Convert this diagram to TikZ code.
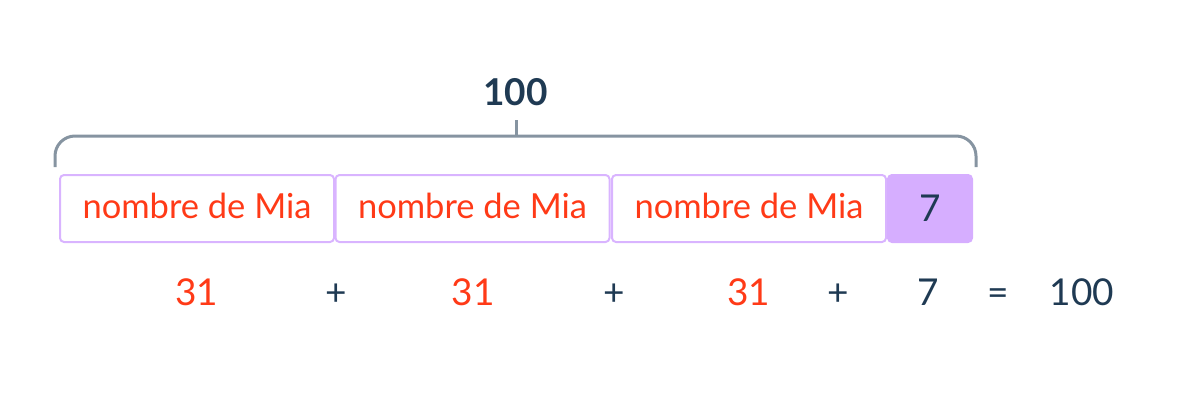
\documentclass[tikz,border=0pt]{standalone}
\usepackage{fontspec}
\setmainfont{Lato}
\definecolor{redtxt}{HTML}{FF3A17}
\definecolor{navy}{HTML}{1F3A53}
\definecolor{boxline}{HTML}{D9B4FF}
\definecolor{boxfill}{HTML}{D6AEFF}
\definecolor{bracecol}{HTML}{8694A1}
\begin{document}
\begin{tikzpicture}[x=1pt,y=-1pt,
  part/.style={draw=boxline, line width=2pt, rounded corners=4pt,
    minimum height=67pt, minimum width=274pt, inner sep=0pt, text depth=6.4pt,
    font=\fontsize{34.5}{40}\selectfont, text=redtxt},
  rest/.style={part, fill=boxfill, draw=boxfill, minimum width=84pt, text depth=0pt,
    font=\fontsize{37}{44}\selectfont, text=navy},
  eqred/.style={anchor=base, font=\fontsize{37}{44}\selectfont, text=redtxt, inner sep=0pt},
  eqnavy/.style={eqred, text=navy},
  total/.style={anchor=base, font=\fontsize{37}{44}\selectfont\bfseries, text=navy, inner sep=0pt},
  bracketline/.style={draw=bracecol, line width=3pt}
]
\useasboundingbox (0,0) rectangle (1190,410);
\node[part] (b1) at (197,208.5) {nombre de Mia};
\node[part] (b2) at (472.5,208.5) {nombre de Mia};
\node[part] (b3) at (749,208.5) {nombre de Mia};
\node[rest] (b4) at (930,208.5) {7};

\coordinate (bl) at (55,167);
\coordinate (br) at (976,167);
\coordinate (bm) at (516,136);
\coordinate (tick) at (516,120);
\draw[bracketline, rounded corners=20pt] (bl) |- (bm) -| (br);
\draw[bracketline] (bm) -- (tick);
\node[total] (tot) at (515.5,105) {100};

\node[eqred] (e1) at (196.5,305.5) {31};
\node[eqnavy] (p1) at (336,305.5) {+};
\node[eqred] (e2) at (473,305.5) {31};
\node[eqnavy] (p2) at (614.5,305.5) {+};
\node[eqred] (e3) at (748.5,305.5) {31};
\node[eqnavy] (p3) at (838,305.5) {+};
\node[eqnavy] (e4) at (928,305.5) {7};
\node[eqnavy] (eq) at (998,305.5) {=};
\node[eqnavy] (res) at (1082,305.5) {100};
\end{tikzpicture}
\end{document}
